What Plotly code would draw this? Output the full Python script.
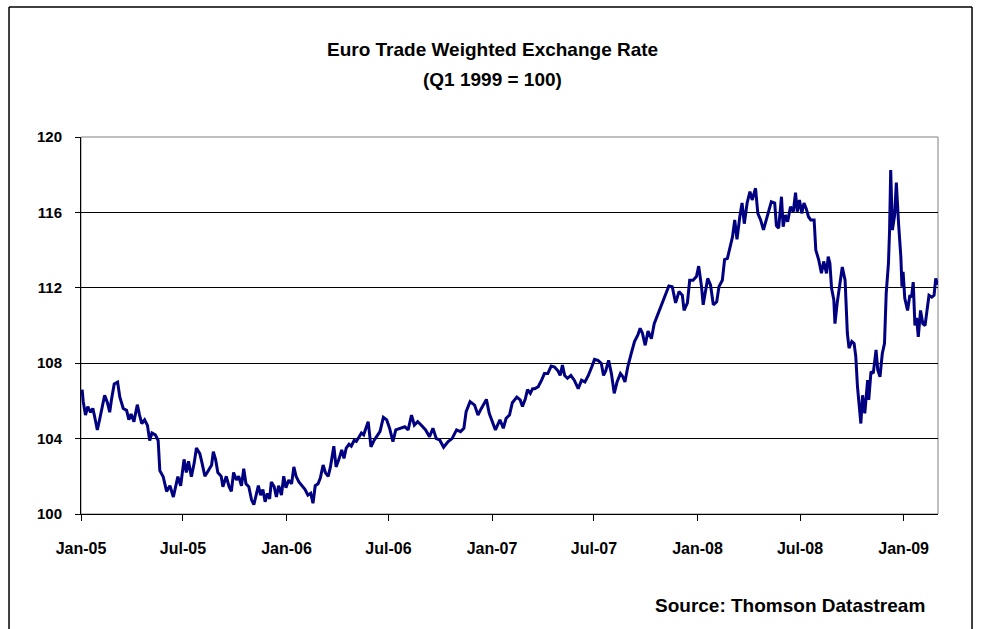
import plotly.graph_objects as go

# ---- data ----
dates = [
    "2005-01-03","2005-01-05","2005-01-09","2005-01-13","2005-01-18","2005-01-22","2005-01-25","2005-01-30",
    "2005-02-03","2005-02-07","2005-02-12","2005-02-17","2005-02-21","2005-02-24","2005-03-01","2005-03-07",
    "2005-03-11","2005-03-17","2005-03-23","2005-03-27","2005-03-31","2005-04-05","2005-04-11","2005-04-15",
    "2005-04-19","2005-04-24","2005-04-29","2005-05-03","2005-05-07","2005-05-13","2005-05-18","2005-05-21",
    "2005-05-27","2005-06-02","2005-06-08","2005-06-14","2005-06-18","2005-06-22","2005-06-27","2005-07-03",
    "2005-07-07","2005-07-11","2005-07-16","2005-07-21","2005-07-25","2005-07-31","2005-08-04","2005-08-09",
    "2005-08-15","2005-08-21","2005-08-24","2005-08-28","2005-09-01","2005-09-07","2005-09-10","2005-09-16",
    "2005-09-21","2005-09-25","2005-09-29","2005-10-04","2005-10-08","2005-10-13","2005-10-17","2005-10-21",
    "2005-10-26","2005-10-31","2005-11-04","2005-11-08","2005-11-12","2005-11-16","2005-11-20","2005-11-24",
    "2005-11-28","2005-12-02","2005-12-05","2005-12-10","2005-12-14","2005-12-18","2005-12-23","2005-12-27",
    "2005-12-31","2006-01-05","2006-01-10","2006-01-14","2006-01-18","2006-01-23","2006-01-28","2006-02-03",
    "2006-02-08","2006-02-13","2006-02-17","2006-02-21","2006-02-26","2006-03-02","2006-03-07","2006-03-11",
    "2006-03-16","2006-03-20","2006-03-26","2006-03-30","2006-04-04","2006-04-09","2006-04-13","2006-04-17",
    "2006-04-22","2006-04-26","2006-05-01","2006-05-05","2006-05-10","2006-05-14","2006-05-18","2006-05-26",
    "2006-05-31","2006-06-06","2006-06-12","2006-06-16","2006-06-22","2006-06-28","2006-07-03","2006-07-09",
    "2006-07-14","2006-07-21","2006-07-30","2006-08-05","2006-08-11","2006-08-16","2006-08-22","2006-08-28",
    "2006-09-05","2006-09-12","2006-09-18","2006-09-24","2006-09-30","2006-10-07","2006-10-15","2006-10-22",
    "2006-10-30","2006-11-06","2006-11-12","2006-11-16","2006-11-23","2006-12-01","2006-12-07","2006-12-13",
    "2006-12-22","2006-12-27","2007-01-02","2007-01-07","2007-01-15","2007-01-21","2007-01-26","2007-02-01",
    "2007-02-06","2007-02-14","2007-02-20","2007-02-24","2007-03-01","2007-03-05","2007-03-10","2007-03-14",
    "2007-03-18","2007-03-24","2007-03-30","2007-04-04","2007-04-10","2007-04-16","2007-04-22","2007-04-28",
    "2007-05-02","2007-05-06","2007-05-10","2007-05-15","2007-05-21","2007-05-27","2007-06-03","2007-06-09",
    "2007-06-15","2007-06-21","2007-06-27","2007-07-02","2007-07-08","2007-07-14","2007-07-18","2007-07-22",
    "2007-07-27","2007-08-01","2007-08-06","2007-08-11","2007-08-17","2007-08-21","2007-08-25","2007-08-30",
    "2007-09-05","2007-09-11","2007-09-17","2007-09-21","2007-09-25","2007-09-30","2007-10-05","2007-10-11",
    "2007-10-16","2007-10-21","2007-10-28","2007-11-02","2007-11-07","2007-11-11","2007-11-17","2007-11-23",
    "2007-11-29","2007-12-05","2007-12-08","2007-12-14","2007-12-18","2007-12-24","2007-12-30","2008-01-03",
    "2008-01-08","2008-01-11","2008-01-15","2008-01-19","2008-01-24","2008-01-29","2008-02-04","2008-02-08",
    "2008-02-14","2008-02-18","2008-02-23","2008-02-27","2008-03-03","2008-03-07","2008-03-11","2008-03-16",
    "2008-03-20","2008-03-24","2008-03-29","2008-04-03","2008-04-07","2008-04-13","2008-04-17","2008-04-22",
    "2008-04-27","2008-05-01","2008-05-05","2008-05-11","2008-05-17","2008-05-20","2008-05-24","2008-05-29",
    "2008-06-01","2008-06-05","2008-06-09","2008-06-14","2008-06-19","2008-06-23","2008-06-26","2008-06-30",
    "2008-07-04","2008-07-08","2008-07-12","2008-07-16","2008-07-20","2008-07-26","2008-07-29","2008-08-03",
    "2008-08-08","2008-08-12","2008-08-17","2008-08-20","2008-08-23","2008-08-26","2008-08-30","2008-09-01",
    "2008-09-05","2008-09-09","2008-09-14","2008-09-19","2008-09-23","2008-09-26","2008-10-01","2008-10-05",
    "2008-10-08","2008-10-11","2008-10-14","2008-10-17","2008-10-20","2008-10-24","2008-10-29","2008-10-31",
    "2008-11-04","2008-11-08","2008-11-13","2008-11-16","2008-11-20","2008-11-24","2008-11-28","2008-12-01",
    "2008-12-05","2008-12-07","2008-12-09","2008-12-12","2008-12-16","2008-12-19","2008-12-23","2008-12-27",
    "2008-12-29","2008-12-31","2009-01-03","2009-01-08","2009-01-12","2009-01-15","2009-01-18","2009-01-21",
    "2009-01-24","2009-01-27","2009-01-31","2009-02-04","2009-02-08","2009-02-12","2009-02-15","2009-02-20",
    "2009-02-24","2009-02-27","2009-03-02",
]

index_values = [
    106.6,105.96,105.25,105.7,105.4,105.6,105.2,104.46,
    105.0,105.6,106.3,105.9,105.4,106.05,106.9,107.0,
    106.2,105.6,105.5,105.0,105.3,104.9,105.8,105.25,
    104.8,105.0,104.7,103.9,104.3,104.2,103.9,102.3,
    101.98,101.2,101.5,100.9,101.5,101.98,101.5,102.9,
    102.2,102.8,101.98,102.7,103.5,103.2,102.7,102.0,
    102.3,102.6,103.3,102.9,102.2,102.0,101.45,102.0,
    101.45,101.2,102.2,101.8,102.0,101.5,102.4,101.6,
    101.45,100.74,100.5,101.1,101.5,101.0,101.3,100.65,
    101.1,100.8,101.7,101.45,100.9,101.5,101.0,102.0,
    101.4,101.8,101.6,102.5,102.0,101.7,101.5,101.3,
    101.0,101.1,100.57,101.5,101.6,101.9,102.6,102.2,
    102.0,102.5,103.6,102.5,102.9,103.4,102.95,103.5,
    103.7,103.6,103.9,103.85,104.1,104.3,104.2,104.9,
    103.57,103.93,104.2,104.37,105.13,104.99,104.55,103.84,
    104.46,104.55,104.63,104.46,105.25,104.72,104.9,104.72,
    104.46,104.1,104.55,104.0,103.93,103.54,103.84,104.0,
    104.46,104.37,104.55,105.43,105.96,105.78,105.25,105.6,
    106.08,105.34,104.9,104.46,105.0,104.55,105.08,105.25,
    105.9,106.2,106.05,105.7,106.1,106.6,106.4,106.65,
    106.65,106.75,107.1,107.45,107.45,107.85,107.8,107.6,
    107.35,107.9,107.35,107.2,107.35,107.1,106.65,107.1,
    107.0,107.35,107.8,108.2,108.15,108.0,107.35,107.6,
    108.15,107.45,106.4,107.0,107.45,107.3,107.0,107.8,
    108.5,109.15,109.5,109.85,109.6,108.95,109.7,109.3,
    110.1,110.47,111.0,111.35,111.7,112.1,112.06,111.2,
    111.8,111.6,110.8,111.2,112.4,112.4,112.6,113.15,
    112.06,111.1,111.8,112.5,112.15,111.1,111.26,112.06,
    112.4,113.5,113.56,114.1,114.7,115.6,114.57,115.77,
    116.5,115.4,116.5,117.1,116.66,117.28,115.95,115.6,
    115.07,115.5,115.95,116.57,116.5,115.3,115.16,116.83,
    115.24,115.86,115.5,116.3,116.04,117.05,116.04,116.66,
    115.95,116.5,116.2,115.77,115.6,115.6,114.0,113.5,
    112.77,113.4,112.77,113.65,113.3,111.97,111.35,110.1,
    111.2,112.15,113.1,112.4,109.6,108.8,109.15,109.05,
    108.35,106.75,105.5,104.8,106.3,105.34,107.1,106.05,
    107.55,107.46,108.7,107.64,107.28,108.5,109.05,111.7,
    113.3,115.07,118.25,115.07,115.86,117.58,115.4,113.65,
    112.06,112.85,111.44,110.8,111.6,111.5,112.3,110.0,
    110.4,109.4,110.8,110.1,110.0,110.8,111.6,111.5,
    111.6,112.5,112.15,
]

y_ticks = [100, 104, 108, 112, 116, 120]
x_tick_dates = ["2005-01-01", "2005-07-01", "2006-01-01", "2006-07-01", "2007-01-01",
                "2007-07-01", "2008-01-01", "2008-07-01", "2009-01-01"]
x_tick_labels = ["Jan-05", "Jul-05", "Jan-06", "Jul-06", "Jan-07",
                 "Jul-07", "Jan-08", "Jul-08", "Jan-09"]

title_line1 = "Euro Trade Weighted Exchange Rate"
title_line2 = "(Q1 1999 = 100)"
source_text = "Source: Thomson Datastream"

FONT = "Liberation Sans, Arial, sans-serif"

fig = go.Figure()
fig.add_trace(go.Scatter(
    x=dates, y=index_values, mode="lines",
    line=dict(color="#000080", width=3),
    hoverinfo="x+y", showlegend=False,
))

fig.update_layout(
    width=982, height=629,
    margin=dict(l=81, r=44, t=137, b=115),
    paper_bgcolor="white", plot_bgcolor="white",
    font=dict(family=FONT, color="black", size=15),
    xaxis=dict(
        type="date", range=["2005-01-01", "2009-03-03"],
        tickmode="array", tickvals=x_tick_dates, ticktext=["<b>%s</b>" % t for t in x_tick_labels],
        ticks="outside", ticklen=6, tickcolor="black", tickwidth=1,
        showline=True, linecolor="black", linewidth=1,
        showgrid=False, zeroline=False,
        tickfont=dict(family=FONT, size=16, color="black"),
        ticklabelstandoff=14,
    ),
    yaxis=dict(
        range=[100, 120], tickmode="array", tickvals=y_ticks,
        ticktext=["<b>%d</b>" % v for v in y_ticks],
        ticks="outside", ticklen=5, tickcolor="black", tickwidth=1,
        showline=True, linecolor="black", linewidth=1,
        showgrid=True, gridcolor="black", gridwidth=1,
        zeroline=False,
        tickfont=dict(family=FONT, size=15, color="black"),
        ticklabelstandoff=10,
    ),
)

# plot-area frame (gray top / right)
fig.add_shape(type="rect", xref="paper", yref="paper", x0=0, x1=1, y0=0, y1=1,
              line=dict(color="#808080", width=1), layer="below")
# outer chart border: left, top, right edges
BORDER = dict(color="black", width=1.5)
fig.add_shape(type="line", xref="paper", yref="paper", x0=-0.084, x1=-0.084, y0=-0.35, y1=1.345, line=BORDER)
fig.add_shape(type="line", xref="paper", yref="paper", x0=1.0397, x1=1.0397, y0=-0.35, y1=1.345, line=BORDER)
fig.add_shape(type="line", xref="paper", yref="paper", x0=-0.084, x1=1.0397, y0=1.345, y1=1.345, line=BORDER)

fig.add_annotation(
    text="<b>" + title_line1 + "</b>", xref="paper", yref="paper",
    x=0.4796, y=1.2308, xanchor="center", yanchor="middle", showarrow=False,
    font=dict(family=FONT, size=19, color="black"),
)
fig.add_annotation(
    text="<b>" + title_line2 + "</b>", xref="paper", yref="paper",
    x=0.4796, y=1.1512, xanchor="center", yanchor="middle", showarrow=False,
    font=dict(family=FONT, size=19, color="black"),
)
fig.add_annotation(
    text="<b>" + source_text + "</b>", xref="paper", yref="paper",
    x=0.987, y=-0.244, xanchor="right", yanchor="middle", showarrow=False,
    font=dict(family=FONT, size=19, color="black"),
)

# remove the default 8px page margin so the figure fills the window exactly
fig.write_html("out.html", config={"displayModeBar": False},
               post_script="document.body.style.margin='0';")
